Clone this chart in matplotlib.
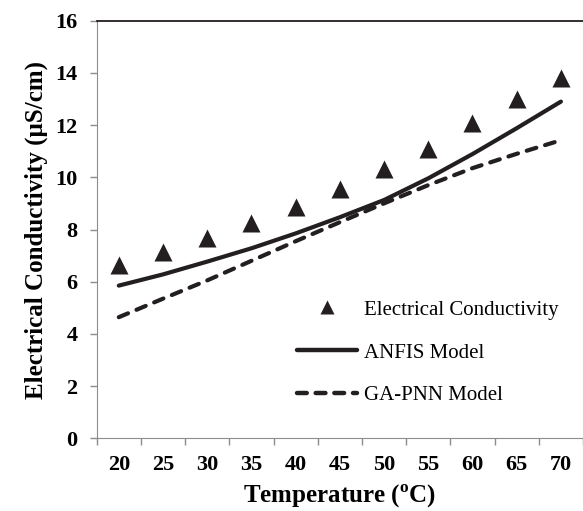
import numpy as np
import matplotlib
matplotlib.use('Agg')
import matplotlib.pyplot as plt
from matplotlib.lines import Line2D

plt.rcParams['font.family'] = ['Liberation Serif', 'DejaVu Serif']
plt.rcParams['mathtext.fontset'] = 'custom'
plt.rcParams['mathtext.rm'] = 'Liberation Serif:bold'
plt.rcParams['mathtext.bf'] = 'Liberation Serif:bold'

# donnees
temperature = [20, 25, 30, 35, 40, 45, 50, 55, 60, 65, 70]
conductivite = [6.64, 7.14, 7.66, 8.26, 8.86, 9.54, 10.30, 11.10, 12.08, 13.01, 13.82]
anfis = [5.85, 6.28, 6.77, 7.28, 7.85, 8.47, 9.13, 9.96, 10.89, 11.88, 12.90]
ga_pnn = [4.64, 5.35, 6.05, 6.80, 7.55, 8.28, 9.00, 9.70, 10.35, 10.90, 11.42]

noir = '#231f20'
gris = '#8c8c8c'

fig = plt.figure(figsize=(5.83, 5.11), dpi=100)
ax = fig.add_axes([96.7 / 583, 1 - 438.3 / 511, 1 - 96.7 / 583, (438.3 - 20.7) / 511])

x = np.arange(len(temperature))
ax.plot(x, anfis, color=noir, lw=3, solid_capstyle='round')
ax.plot(x, ga_pnn, color=noir, lw=3, dashes=(2.4, 2.2), dash_capstyle='round')
ax.plot(x, conductivite, '^', color=noir, ms=13.5, mec='none')

ax.set_xlim(-0.5, len(temperature) - 0.5)
ax.set_ylim(0, 16)
ax.set_yticks(np.arange(0, 17, 2))
ax.set_xticks(x)
ax.set_xticklabels([str(t) for t in temperature])
ax.set_xticks(np.arange(-0.5, len(temperature), 1), minor=True)
ax.tick_params(axis='x', which='major', length=0, pad=12)
ax.tick_params(axis='x', which='minor', length=5, width=1, color=gris)
ax.tick_params(axis='y', length=5, width=1, color=gris, pad=9)
for lab in ax.get_xticklabels() + ax.get_yticklabels():
    lab.set_fontsize(16)
    lab.set_fontweight('bold')

ax.spines['left'].set_color(gris)
ax.spines['bottom'].set_color(gris)
ax.spines['top'].set_color(noir)
ax.spines['top'].set_linewidth(1.3)
ax.spines['right'].set_visible(False)

ax.set_xlabel(r'Temperature ($^{\mathbf{o}}$C)', fontsize=18, fontweight='bold', labelpad=6)
ax.set_ylabel('Electrical Conductivity (μS/cm)', fontsize=18, fontweight='bold', labelpad=5)

poignees = [
    Line2D([], [], ls='none', marker='^', color=noir, ms=10, mec='none'),
    Line2D([], [], color=noir, lw=3.2, solid_capstyle='round'),
    Line2D([], [], color=noir, lw=3.2, dashes=(2.2, 2.0), dash_capstyle='round'),
]
ax.legend(poignees, ['Electrical Conductivity', 'ANFIS Model', 'GA-PNN Model'],
          loc='upper left', bbox_to_anchor=(296.7 / 583, 1 - 300 / 511),
          bbox_transform=fig.transFigure, frameon=False, fontsize=15,
          handlelength=2.9, handletextpad=0.35, labelspacing=1.12, borderpad=0,
          borderaxespad=0)

fig.savefig('out.png', dpi=100)
